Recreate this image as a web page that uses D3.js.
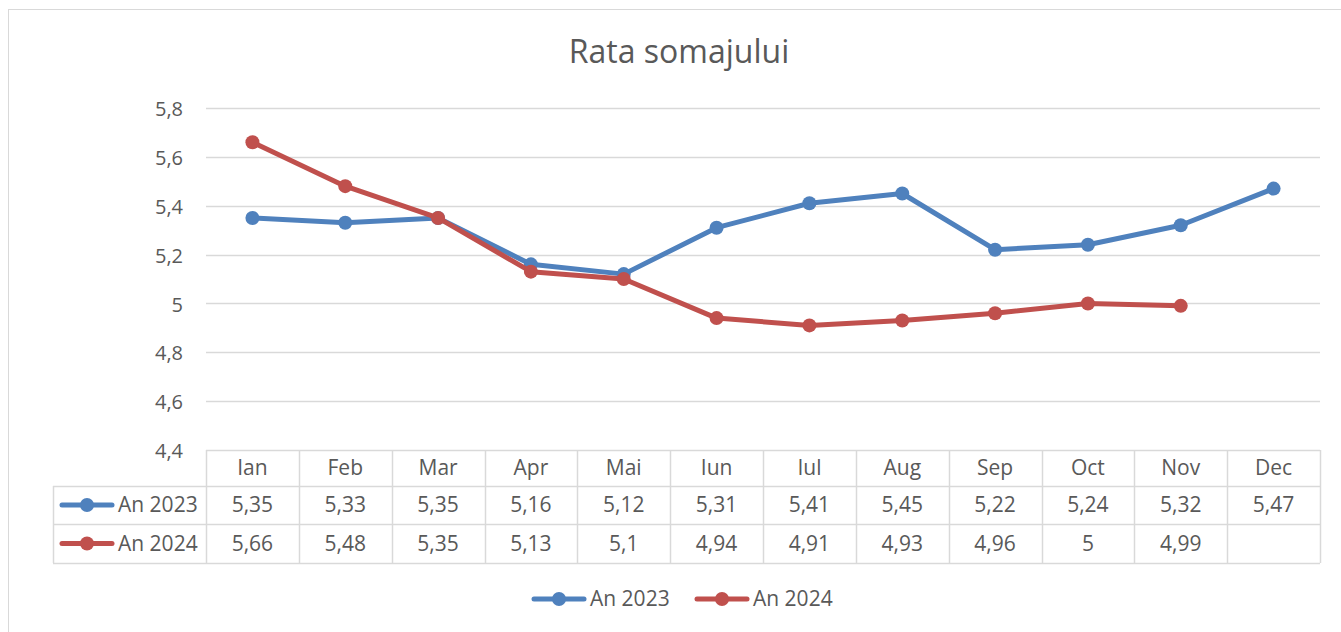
<!DOCTYPE html>
<html>
<head>
<meta charset="utf-8">
<script src="https://cdn.jsdelivr.net/npm/d3@7"></script>
<style>
  body { margin: 0; background: #fff; }
  svg text { font-family: "Open Sans", Lato, sans-serif; fill: #595959; }
</style>
</head>
<body>
<svg class="chart" width="1341" height="632"></svg>
<script>
var months = ["Ian", "Feb", "Mar", "Apr", "Mai", "Iun", "Iul", "Aug", "Sep", "Oct", "Nov", "Dec"];
var an2023 = [5.35, 5.33, 5.35, 5.16, 5.12, 5.31, 5.41, 5.45, 5.22, 5.24, 5.32, 5.47];
var an2024 = [5.66, 5.48, 5.35, 5.13, 5.1, 4.94, 4.91, 4.93, 4.96, 5, 4.99, null];
var yTicks = [4.4, 4.6, 4.8, 5, 5.2, 5.4, 5.6, 5.8];

var series = [
  {name: "An 2023", values: an2023, color: "#4F81BD"},
  {name: "An 2024", values: an2024, color: "#C0504D"}
];

var svg = d3.select("svg.chart");
var margin = {top: 108, left: 206, right: 21};
var plotW = 1341 - margin.left - margin.right;
var plotH = 342;
var rowH = [36, 38, 39];
var legendLeft = 53;
var fs = "20px";
var fsTable = "21px";

var fmt = function(v) { return v == null ? "" : String(v).replace(".", ","); };

// chart border
svg.append("rect")
  .attr("x", 8.5).attr("y", 9.5)
  .attr("width", 1345).attr("height", 640)
  .attr("fill", "none").attr("stroke", "#d9d9d9");

svg.append("text")
  .attr("x", 679).attr("y", 63)
  .attr("text-anchor", "middle")
  .style("font-size", "32px")
  .text("Rata somajului");

var x = d3.scaleBand().domain(months).range([0, plotW]);
var y = d3.scaleLinear().domain([4.4, 5.8]).range([plotH, 0]);

var g = svg.append("g")
  .attr("transform", "translate(" + margin.left + "," + margin.top + ")");

// gridlines
g.append("g")
  .selectAll("line")
  .data(yTicks.slice(1))
  .enter().append("line")
  .attr("x1", 0).attr("x2", plotW)
  .attr("y1", function(d) { return Math.round(y(d)) + 0.5; })
  .attr("y2", function(d) { return Math.round(y(d)) + 0.5; })
  .attr("stroke", "#d9d9d9").attr("stroke-width", 1.3);

// y axis labels
var yAxis = g.append("g")
  .call(d3.axisLeft(y).tickValues(yTicks).tickSize(0).tickPadding(23).tickFormat(fmt));
yAxis.select(".domain").remove();
yAxis.selectAll("text").style("font-size", fs).attr("fill", "#595959").attr("dy", "0.38em");

// data table
var table = g.append("g").attr("transform", "translate(0," + plotH + ")");
var rowY = [0, rowH[0], rowH[0] + rowH[1], rowH[0] + rowH[1] + rowH[2]];
var lineColor = "#d9d9d9";

// horizontal lines
table.append("line").attr("x1", 0).attr("x2", plotW).attr("y1", 0.5).attr("y2", 0.5)
  .attr("stroke", lineColor).attr("stroke-width", 1.5);
[1, 2, 3].forEach(function(i) {
  table.append("line")
    .attr("x1", legendLeft - margin.left).attr("x2", plotW)
    .attr("y1", rowY[i] + 0.5).attr("y2", rowY[i] + 0.5)
    .attr("stroke", lineColor).attr("stroke-width", 1.5);
});
// vertical lines
var cols = months.map(function(m) { return x(m); }).concat([plotW]);
table.selectAll("line.v")
  .data(cols)
  .enter().append("line")
  .attr("class", "v")
  .attr("x1", function(d) { return Math.round(d) + 0.5; })
  .attr("x2", function(d) { return Math.round(d) + 0.5; })
  .attr("y1", 0).attr("y2", rowY[3])
  .attr("stroke", lineColor).attr("stroke-width", 1.5);
table.append("line")
  .attr("x1", legendLeft - margin.left + 0.5).attr("x2", legendLeft - margin.left + 0.5)
  .attr("y1", rowY[1]).attr("y2", rowY[3])
  .attr("stroke", lineColor).attr("stroke-width", 1.5);

// header
table.selectAll("text.hdr")
  .data(months)
  .enter().append("text")
  .attr("class", "hdr")
  .attr("x", function(d) { return x(d) + x.bandwidth() / 2; })
  .attr("y", rowY[0] + rowH[0] / 2 + 7)
  .attr("text-anchor", "middle")
  .style("font-size", fsTable)
  .text(function(d) { return d; });

function legendKey(sel, cx, cy, color) {
  sel.append("line")
    .attr("x1", cx - 25).attr("x2", cx + 25)
    .attr("y1", cy).attr("y2", cy)
    .attr("stroke", color).attr("stroke-width", 5).attr("stroke-linecap", "round");
  sel.append("circle").attr("cx", cx).attr("cy", cy).attr("r", 7).attr("fill", color);
}

series.forEach(function(s, i) {
  var cy = rowY[i + 1] + rowH[i + 1] / 2;
  legendKey(table, legendLeft - margin.left + 34, cy, s.color);
  table.append("text")
    .attr("x", legendLeft - margin.left + 65)
    .attr("y", cy + 7)
    .style("font-size", fsTable)
    .text(s.name);
  table.selectAll("text.v" + i)
    .data(s.values)
    .enter().append("text")
    .attr("class", "v" + i)
    .attr("x", function(d, j) { return x(months[j]) + x.bandwidth() / 2; })
    .attr("y", cy + 7)
    .attr("text-anchor", "middle")
    .style("font-size", fsTable)
    .text(fmt);
});

// lines and markers
var line = d3.line()
  .defined(function(d) { return d != null; })
  .x(function(d, j) { return x(months[j]) + x.bandwidth() / 2; })
  .y(function(d) { return y(d); });

series.forEach(function(s) {
  g.append("path")
    .datum(s.values)
    .attr("fill", "none")
    .attr("stroke", s.color)
    .attr("stroke-width", 5)
    .attr("stroke-linejoin", "round")
    .attr("stroke-linecap", "round")
    .attr("d", line);
  g.selectAll(null)
    .data(s.values.map(function(v, j) { return {v: v, m: months[j]}; })
      .filter(function(d) { return d.v != null; }))
    .enter().append("circle")
    .attr("cx", function(d) { return x(d.m) + x.bandwidth() / 2; })
    .attr("cy", function(d) { return y(d.v); })
    .attr("r", 7)
    .attr("fill", s.color);
});

// bottom legend
var legend = svg.append("g").attr("transform", "translate(0,599)");
var legendX = [559, 722];
series.forEach(function(s, i) {
  legendKey(legend, legendX[i], 0, s.color);
  legend.append("text")
    .attr("x", legendX[i] + 31).attr("y", 7)
    .style("font-size", fsTable)
    .text(s.name);
});
</script>
</body>
</html>
